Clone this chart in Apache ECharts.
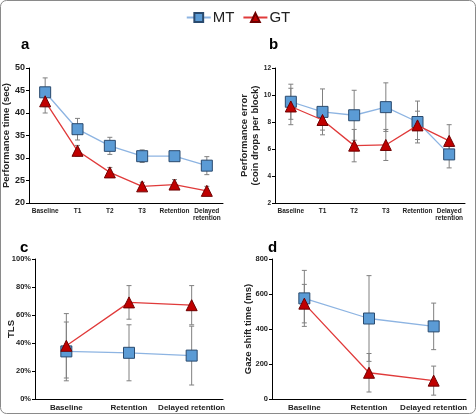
<!DOCTYPE html>
<html>
<head>
<meta charset="utf-8">
<script src="https://cdn.jsdelivr.net/npm/echarts@6/dist/echarts.min.js"></script>
<style>
  html, body { margin: 0; padding: 0; background: #fff; }
  #chart { width: 476px; height: 414px; }
</style>
</head>
<body>
<div id="chart"></div>
<script>
// categories
const sessionsAB = ['Baseline', 'T1', 'T2', 'T3', 'Retention', 'Delayed\nretention']
const sessionsCD = ['Baseline', 'Retention', 'Delayed retention']

// a: performance time (sec)
const timeMT = [44.6, 36.4, 32.7, 30.4, 30.4, 28.3]
const timeMTErr = [3.2, 2.4, 1.9, 1.4, 0.6, 2.0]
const timeGT = [42.6, 31.6, 26.8, 23.7, 24.1, 22.7]
const timeGTErr = [2.6, 1.2, 1.1, 0.9, 1.1, 1.0]

// b: performance error (coin drops per block)
const errMT = [9.5, 8.75, 8.5, 9.1, 8.0, 5.6]
const errMTErr = [1.3, 1.7, 1.85, 1.8, 1.55, 1.0]
const errGT = [9.15, 8.15, 6.25, 6.3, 7.75, 6.6]
const errGTErr = [1.35, 0.75, 1.2, 1.15, 1.05, 1.2]

// c: TLS (%)
const tlsMT = [34, 33, 31]
const tlsMTErr = [21, 20, 21]
const tlsGT = [38, 69, 67]
const tlsGTErr = [23, 12, 14]

// d: gaze shift time (ms)
const gazeMT = [575, 460, 415]
const gazeMTErr = [160, 245, 133]
const gazeGT = [545, 150, 105]
const gazeGTErr = [110, 110, 83]

const FONT = 'Liberation Sans, Arial, sans-serif'
const MT_LINE = '#8db4e2'
const MT_FILL = '#5b9bd5'
const MT_EDGE = '#2a4a6e'
const GT_LINE = '#e03a3a'
const GT_FILL = '#c00000'
const GT_EDGE = '#6e0000'

const myChart = echarts.init(document.getElementById('chart'))

function errData(vals, errs) {
  return vals.map((v, i) => [i, v - errs[i], v + errs[i]])
}

function errorSeries(idx, vals, errs) {
  return {
    type: 'custom',
    xAxisIndex: idx,
    yAxisIndex: idx,
    z: 1,
    silent: true,
    data: errData(vals, errs),
    renderItem: (params, api) => {
      const x = api.value(0)
      const lo = api.coord([x, api.value(1)])
      const hi = api.coord([x, api.value(2)])
      const w = 2.5
      const st = { stroke: '#808080', lineWidth: 1 }
      return {
        type: 'group',
        children: [
          { type: 'line', shape: { x1: lo[0], y1: lo[1], x2: hi[0], y2: hi[1] }, style: st },
          { type: 'line', shape: { x1: lo[0] - w, y1: lo[1], x2: lo[0] + w, y2: lo[1] }, style: st },
          { type: 'line', shape: { x1: hi[0] - w, y1: hi[1], x2: hi[0] + w, y2: hi[1] }, style: st }
        ]
      }
    }
  }
}

function mtSeries(idx, vals) {
  return {
    name: 'MT', type: 'line', xAxisIndex: idx, yAxisIndex: idx, z: 3,
    data: vals, symbol: 'rect', symbolSize: 11,
    lineStyle: { color: MT_LINE, width: 1.3 },
    itemStyle: { color: MT_FILL, borderColor: MT_EDGE, borderWidth: 1 }
  }
}

function gtSeries(idx, vals) {
  return {
    name: 'GT', type: 'line', xAxisIndex: idx, yAxisIndex: idx, z: 4,
    data: vals, symbol: 'triangle', symbolSize: 11,
    lineStyle: { color: GT_LINE, width: 1.3 },
    itemStyle: { color: GT_FILL, borderColor: GT_EDGE, borderWidth: 1 }
  }
}

function xAxis(idx, cats, size) {
  return {
    type: 'category', gridIndex: idx, data: cats,
    axisLine: { lineStyle: { color: '#000', width: 1 } },
    axisTick: { show: false },
    axisLabel: { color: '#222', fontFamily: FONT, fontWeight: 'bold', fontSize: size, margin: 4, lineHeight: size + 1, interval: 0 }
  }
}

function yAxis(idx, min, max, interval, name, gap, size, fmt) {
  return {
    type: 'value', gridIndex: idx, min, max, interval,
    name, nameLocation: 'middle', nameGap: gap, nameRotate: 90,
    nameMoveOverlap: false,
    nameTextStyle: { color: '#222', fontFamily: FONT, fontWeight: 'bold', fontSize: 9.5, lineHeight: 11 },
    splitLine: { show: false },
    axisLine: { show: true, lineStyle: { color: '#000', width: 1 } },
    axisTick: { show: true, length: 3, lineStyle: { color: '#000' } },
    axisLabel: { color: '#222', fontFamily: FONT, fontWeight: 'bold', fontSize: size, margin: 4, formatter: fmt }
  }
}

const panelLabel = (text, x, y) => ({
  type: 'text', left: x, top: y,
  style: { text, font: 'bold 15px ' + FONT, fill: '#000' }
})

const option = {
  animation: false,
  legend: {
    top: 5, left: 'center', itemWidth: 24, itemHeight: 11, itemGap: 8,
    textStyle: { fontFamily: FONT, fontSize: 15, color: '#222', padding: [0, 0, 0, -3] },
    data: ['MT', 'GT']
  },
  graphic: [
    { type: 'rect', shape: { x: 0.5, y: 0.5, width: 475, height: 413, r: 6 }, style: { fill: 'none', stroke: '#8a8a8a', lineWidth: 1 } },
    panelLabel('a', 21, 37),
    panelLabel('b', 269, 37),
    panelLabel('c', 20, 240),
    panelLabel('d', 268, 240)
  ],
  grid: [
    { left: 27, right: 253, top: 68, bottom: 211 },
    { left: 275, right: 11, top: 68, bottom: 211 },
    { left: 35, right: 253, top: 259, bottom: 15 },
    { left: 272, right: 10, top: 259, bottom: 15 }
  ],
  xAxis: [
    xAxis(0, sessionsAB, 6.5),
    xAxis(1, sessionsAB, 6.5),
    xAxis(2, sessionsCD, 8),
    xAxis(3, sessionsCD, 8)
  ],
  yAxis: [
    yAxis(0, 20, 50, 5, 'Performance time (sec)', 17, 9),
    yAxis(1, 2, 12, 2, 'Performance error\n(coin drops per block)', 14, 6.5),
    yAxis(2, 0, 100, 20, 'TLS', 18, 7.5, v => v + '%'),
    yAxis(3, 0, 800, 200, 'Gaze shift time (ms)', 18, 7.5)
  ],
  series: [
    errorSeries(0, timeMT, timeMTErr), errorSeries(0, timeGT, timeGTErr),
    mtSeries(0, timeMT), gtSeries(0, timeGT),
    errorSeries(1, errMT, errMTErr), errorSeries(1, errGT, errGTErr),
    mtSeries(1, errMT), gtSeries(1, errGT),
    errorSeries(2, tlsMT, tlsMTErr), errorSeries(2, tlsGT, tlsGTErr),
    mtSeries(2, tlsMT), gtSeries(2, tlsGT),
    errorSeries(3, gazeMT, gazeMTErr), errorSeries(3, gazeGT, gazeGTErr),
    mtSeries(3, gazeMT), gtSeries(3, gazeGT)
  ]
}

myChart.setOption(option)
</script>
</body>
</html>
